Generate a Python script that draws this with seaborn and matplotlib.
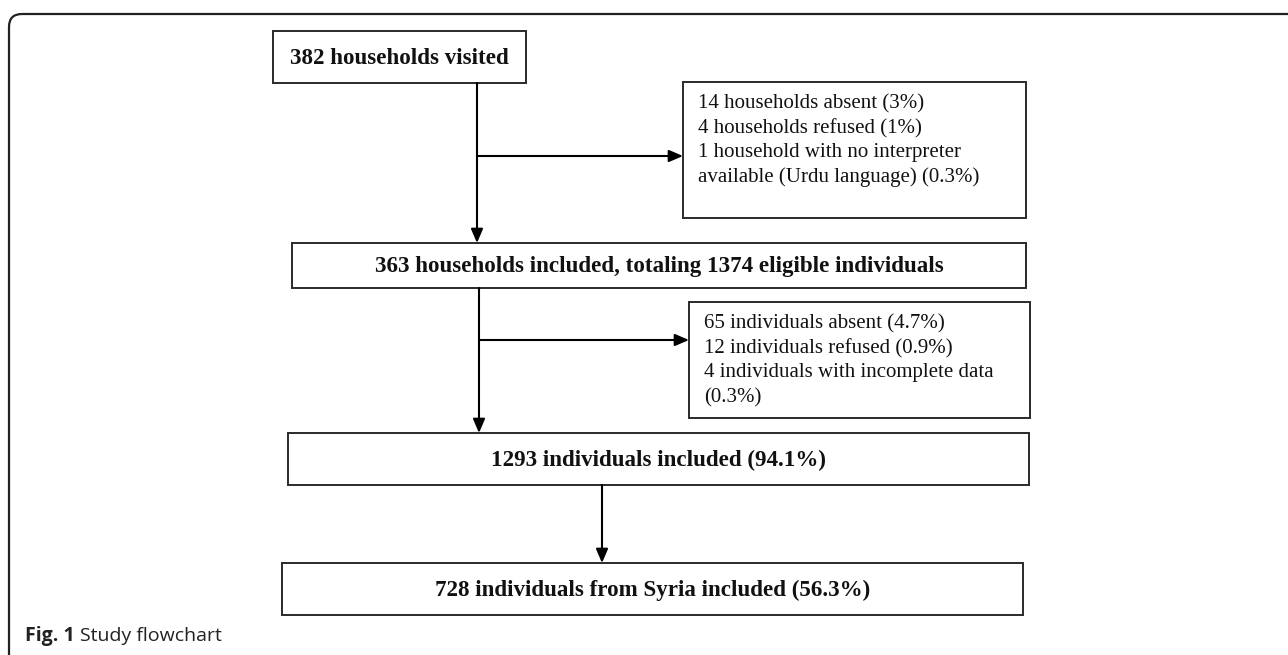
import matplotlib
matplotlib.use("Agg")
import matplotlib.pyplot as plt
import seaborn as sns
from matplotlib.patches import Rectangle, FancyBboxPatch

sns.set_theme(style="white")
plt.rcParams['font.family'] = ['Liberation Serif', 'DejaVu Serif']

# ---- content ----
main_steps = [
    "382 households visited",
    "363 households included, totaling 1374 eligible individuals",
    "1293 individuals included (94.1%)",
    "728 individuals from Syria included (56.3%)",
]
exclusions_1 = [
    "14 households absent (3%)",
    "4 households refused (1%)",
    "1 household with no interpreter",
    "available (Urdu language) (0.3%)",
]
exclusions_2 = [
    "65 individuals absent (4.7%)",
    "12 individuals refused (0.9%)",
    "4 individuals with incomplete data",
    "(0.3%)",
]
caption_bold = "Fig. 1"
caption_text = "Study flowchart"

# ---- layout (pixel coordinates, y downward) ----
W, H = 1288, 655
fig = plt.figure(figsize=(W / 100, H / 100), dpi=100)
ax = fig.add_axes([0, 0, 1, 1])
ax.set_xlim(0, W)
ax.set_ylim(H, 0)
ax.axis("off")

edge = "#2a2a2a"
lw = 1.4

# outer panel border
panel = FancyBboxPatch((9, 14), 1300, 700, boxstyle="round,pad=0,rounding_size=13",
                       fill=False, ec="#222222", lw=1.6, clip_on=False)
ax.add_patch(panel)

main_boxes = [(273, 31, 526, 83), (292, 243, 1026, 288),
              (288, 433, 1029, 485), (282, 563, 1023, 615)]
for (x0, y0, x1, y1), txt in zip(main_boxes, main_steps):
    ax.add_patch(Rectangle((x0, y0), x1 - x0, y1 - y0, fill=False, ec=edge, lw=lw))
    ax.text((x0 + x1) / 2, (y0 + y1) / 2 + 1, txt, ha="center", va="center",
            fontsize=16.6, fontweight="bold", color="#111111")

side_boxes = [(683, 82, 1026, 218), (689, 302, 1030, 418)]
for (x0, y0, x1, y1), lines in zip(side_boxes, [exclusions_1, exclusions_2]):
    ax.add_patch(Rectangle((x0, y0), x1 - x0, y1 - y0, fill=False, ec=edge, lw=lw))
    for i, line in enumerate(lines):
        ax.text(x0 + 15, y0 + 22 + i * 24.5, line, ha="left", va="center",
                fontsize=15, color="#111111")

arrow_kw = dict(arrowstyle="-|>,head_length=0.7,head_width=0.3", color="black", lw=1.5,
                shrinkA=0, shrinkB=0)

def arrow(x0, y0, x1, y1):
    ax.annotate("", xy=(x1, y1), xytext=(x0, y0), arrowprops=arrow_kw)

# first branch
arrow(477, 83, 477, 243)
arrow(477, 156, 683, 156)
# second branch
arrow(479, 288, 479, 433)
arrow(479, 340, 689, 340)
# last step
arrow(602, 485, 602, 563)

# caption
ax.text(25, 636, caption_bold, ha="left", va="center", fontsize=14,
        fontweight="bold", family=["Open Sans", "DejaVu Sans"], color="#222222")
ax.text(80, 636, caption_text, ha="left", va="center", fontsize=14,
        family=["Open Sans", "DejaVu Sans"], color="#222222")

fig.savefig("out.png", dpi=100)
